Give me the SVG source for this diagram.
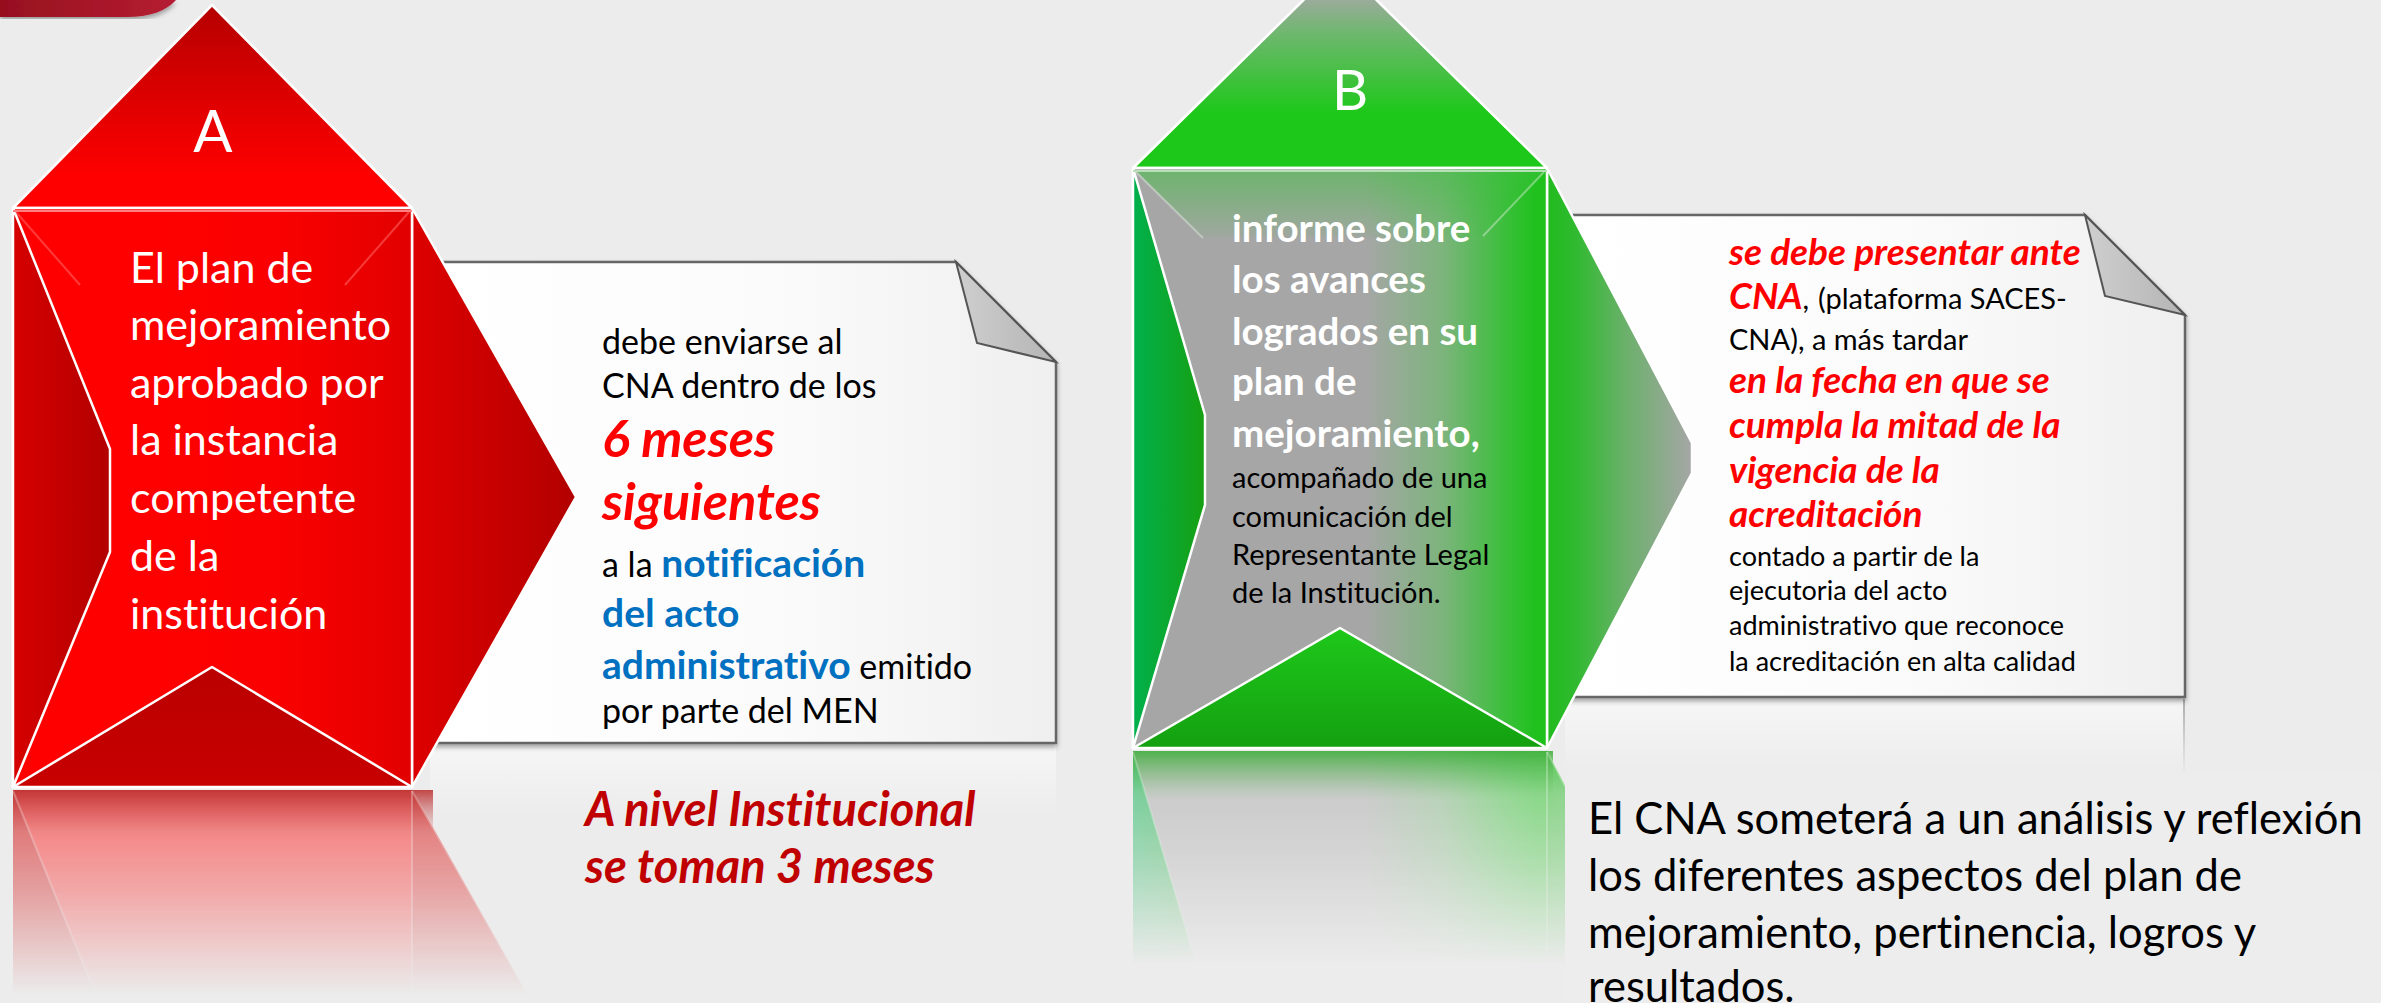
<svg xmlns="http://www.w3.org/2000/svg" width="2381" height="1003" viewBox="0 0 2381 1003">
<defs>
<style>
.f{font-family:Lato,'Open Sans','Liberation Sans',sans-serif;font-variant-ligatures:none;font-feature-settings:"liga" 0,"clig" 0}
.edge{stroke:#fff;stroke-width:2.5;stroke-linejoin:round}
.wA{fill:#fff;font-size:43px}
.big{fill:#fff;font-size:58px}
.ca{font-size:34px;fill:#000}
.r6{font-size:52px;font-weight:700;font-style:italic;fill:#ff0000}
.bl{font-size:39px;font-weight:700;fill:#0070c0}
.dr{font-size:47px;font-weight:700;font-style:italic;fill:#c00000}
.wb{font-size:38.5px;font-weight:700;fill:#fff}
.kb{font-size:29px;fill:#000}
.rb{font-size:37px;font-weight:700;font-style:italic;fill:#ff0000}
.k29{font-size:29px;fill:#000}
.k26{font-size:27px;fill:#000}
.cna{font-size:43.5px;fill:#000}
.paper{fill:url(#gPaper);stroke:#666;stroke-width:2.5;filter:url(#sh)}
.fold{fill:url(#gFold);stroke:#555;stroke-width:2}
.hl{stroke:#fff;stroke-opacity:0.3;stroke-width:2;fill:none}
</style>
<filter id="sh" x="-5%" y="-5%" width="110%" height="115%"><feDropShadow dx="0" dy="3" stdDeviation="2.5" flood-color="#000" flood-opacity="0.35"/></filter>
<linearGradient id="gPaper" x1="0" y1="0" x2="1" y2="0"><stop offset="0" stop-color="#ffffff"/><stop offset="0.55" stop-color="#fbfbfb"/><stop offset="1" stop-color="#efefef"/></linearGradient>
<linearGradient id="gFold" x1="0" y1="0" x2="1" y2="0"><stop offset="0" stop-color="#cfcfcf"/><stop offset="1" stop-color="#b4b4b4"/></linearGradient>
<linearGradient id="gTab" x1="0" y1="0" x2="1" y2="0"><stop offset="0" stop-color="#96101f"/><stop offset="1" stop-color="#b51d31"/></linearGradient>
<linearGradient id="gAtop" gradientUnits="userSpaceOnUse" x1="0" y1="5" x2="0" y2="208"><stop offset="0" stop-color="#b50000"/><stop offset="0.85" stop-color="#ff0000"/></linearGradient>
<linearGradient id="gAface" gradientUnits="userSpaceOnUse" x1="110" y1="0" x2="412" y2="0"><stop offset="0" stop-color="#ff0000"/><stop offset="0.55" stop-color="#fa0000"/><stop offset="1" stop-color="#e20000"/></linearGradient>
<linearGradient id="gAflap" gradientUnits="userSpaceOnUse" x1="13" y1="0" x2="110" y2="0"><stop offset="0" stop-color="#d60000"/><stop offset="1" stop-color="#b20000"/></linearGradient>
<linearGradient id="gAbot" gradientUnits="userSpaceOnUse" x1="0" y1="667" x2="0" y2="787"><stop offset="0" stop-color="#ba0000"/><stop offset="1" stop-color="#c80000"/></linearGradient>
<linearGradient id="gAright" gradientUnits="userSpaceOnUse" x1="412" y1="0" x2="576" y2="0"><stop offset="0" stop-color="#de0000"/><stop offset="1" stop-color="#b20000"/></linearGradient>
<linearGradient id="gBtop" gradientUnits="userSpaceOnUse" x1="0" y1="-10" x2="0" y2="112"><stop offset="0" stop-color="#a8a8a8"/><stop offset="0.35" stop-color="#6fb76f"/><stop offset="1" stop-color="#1ec81a"/></linearGradient>
<linearGradient id="gBface" gradientUnits="userSpaceOnUse" x1="1133" y1="0" x2="1547" y2="0"><stop offset="0" stop-color="#a6a6a6"/><stop offset="0.56" stop-color="#a6a6a6"/><stop offset="0.75" stop-color="#7cb47c"/><stop offset="0.9" stop-color="#3abf3a"/><stop offset="0.97" stop-color="#20c11e"/><stop offset="1" stop-color="#1ec01a"/></linearGradient>
<linearGradient id="gBinner" gradientUnits="userSpaceOnUse" x1="0" y1="168" x2="0" y2="245"><stop offset="0" stop-color="#3cbf3c" stop-opacity="0.55"/><stop offset="1" stop-color="#3cbf3c" stop-opacity="0"/></linearGradient>
<linearGradient id="gBflap" gradientUnits="userSpaceOnUse" x1="1133" y1="0" x2="1205" y2="0"><stop offset="0" stop-color="#00b04c"/><stop offset="1" stop-color="#17a012"/></linearGradient>
<linearGradient id="gBbot" gradientUnits="userSpaceOnUse" x1="0" y1="628" x2="0" y2="748"><stop offset="0" stop-color="#1ec81a"/><stop offset="1" stop-color="#14a010"/></linearGradient>
<linearGradient id="gBright" gradientUnits="userSpaceOnUse" x1="1547" y1="0" x2="1692" y2="0"><stop offset="0" stop-color="#22bb1e"/><stop offset="0.2" stop-color="#30ba30"/><stop offset="0.55" stop-color="#6cb06c"/><stop offset="1" stop-color="#a6a6a6"/></linearGradient>
<linearGradient id="gFadeA" gradientUnits="userSpaceOnUse" x1="0" y1="790" x2="0" y2="995"><stop offset="0" stop-color="#fff" stop-opacity="0.78"/><stop offset="0.2" stop-color="#fff" stop-opacity="0.48"/><stop offset="0.5" stop-color="#fff" stop-opacity="0.32"/><stop offset="1" stop-color="#fff" stop-opacity="0"/></linearGradient>
<linearGradient id="gFadeB" gradientUnits="userSpaceOnUse" x1="0" y1="751" x2="0" y2="965"><stop offset="0" stop-color="#fff" stop-opacity="0.78"/><stop offset="0.2" stop-color="#fff" stop-opacity="0.48"/><stop offset="0.5" stop-color="#fff" stop-opacity="0.32"/><stop offset="1" stop-color="#fff" stop-opacity="0"/></linearGradient>
<linearGradient id="gBandA" gradientUnits="userSpaceOnUse" x1="0" y1="790" x2="0" y2="840"><stop offset="0" stop-color="#b00000" stop-opacity="0.9"/><stop offset="1" stop-color="#b00000" stop-opacity="0"/></linearGradient>
<linearGradient id="gBandB" gradientUnits="userSpaceOnUse" x1="0" y1="751" x2="0" y2="800"><stop offset="0" stop-color="#14a010" stop-opacity="0.9"/><stop offset="1" stop-color="#14a010" stop-opacity="0"/></linearGradient>
<linearGradient id="gRefl" x1="0" y1="0" x2="0" y2="1"><stop offset="0" stop-color="#fff" stop-opacity="0.55"/><stop offset="1" stop-color="#fff" stop-opacity="0"/></linearGradient>
<linearGradient id="gRline" x1="0" y1="0" x2="0" y2="1"><stop offset="0" stop-color="#999" stop-opacity="0.8"/><stop offset="1" stop-color="#999" stop-opacity="0"/></linearGradient>
<mask id="mA" maskUnits="userSpaceOnUse" x="0" y="788" width="700" height="215"><rect x="0" y="788" width="700" height="215" fill="url(#gFadeA)"/></mask>
<mask id="mB" maskUnits="userSpaceOnUse" x="1100" y="749" width="700" height="254"><rect x="1100" y="749" width="700" height="254" fill="url(#gFadeB)"/></mask>
</defs>

<rect x="0" y="0" width="2381" height="1003" fill="#ececec"/>

<g id="corner-tab">
<path d="M0,0 H176 C166,11 150,17 126,17 H0 Z" fill="url(#gTab)" filter="url(#sh)"/>
</g>

<g id="callout-a">
<rect x="430" y="745" width="626" height="70" fill="url(#gRefl)"/>
<path class="paper" d="M430,262 H956 L1056,362 V743 H430 Z"/>
<path class="fold" d="M956,262 L977,343 L1056,362 Z"/>
<g class="f">
<text class="ca" x="602" y="354">debe enviarse al</text>
<text class="ca" x="602" y="398">CNA dentro de los</text>
<text class="r6" x="602" y="457">6 meses</text>
<text class="r6" x="602" y="520">siguientes</text>
<text x="602" y="577"><tspan class="ca">a la </tspan><tspan class="bl">notificación</tspan></text>
<text class="bl" x="602" y="627">del acto</text>
<text x="602" y="679"><tspan class="bl">administrativo</tspan><tspan class="ca"> emitido</tspan></text>
<text class="ca" x="602" y="723">por parte del MEN</text>
</g>
</g>

<g id="callout-b">
<rect x="1565" y="699" width="620" height="75" fill="url(#gRefl)"/>
<rect x="2183" y="699" width="2" height="76" fill="url(#gRline)"/>
<path class="paper" d="M1560,215 H2085 L2185,315 V697 H1560 Z"/>
<path class="fold" d="M2085,215 L2105,296 L2185,315 Z"/>
<g class="f">
<text class="rb" x="1729" y="265">se debe presentar ante</text>
<text x="1729" y="309"><tspan class="rb">CNA</tspan><tspan class="k29">,</tspan></text>
<text class="k29" x="1818" y="309">(plataforma SACES-</text>
<text class="k29" x="1729" y="350">CNA), a más tardar</text>
<text class="rb" x="1729" y="393">en la fecha en que se</text>
<text class="rb" x="1729" y="438">cumpla la mitad de la</text>
<text class="rb" x="1729" y="483">vigencia de la</text>
<text class="rb" x="1729" y="527">acreditación</text>
<text class="k26" x="1729" y="566">contado a partir de la</text>
<text class="k26" x="1729" y="600">ejecutoria del acto</text>
<text class="k26" x="1729" y="635">administrativo que reconoce</text>
<text class="k26" x="1729" y="671">la acreditación en alta calidad</text>
</g>
</g>

<g id="reflections">
<g id="reflection-a" mask="url(#mA)">
<rect x="13" y="790" width="399" height="213" fill="#ff1a1a"/>
<polygon points="13,790 110,1030 13,1030" fill="#d40000"/>
<polygon points="412,790 576,1080 412,1370" fill="#dd1010"/>
<rect x="13" y="790" width="420" height="50" fill="url(#gBandA)"/>
<polyline class="hl" points="13,791 110,1030"/>
<line class="hl" x1="412" y1="791" x2="412" y2="1003"/>
<polyline class="hl" points="412,791 576,1080"/>
</g>
<g id="reflection-b" mask="url(#mB)">
<rect x="1133" y="751" width="414" height="252" fill="url(#gBface)"/>
<polygon points="1133,751 1205,993 1133,993" fill="url(#gBflap)"/>
<polygon points="1547,751 1692,1026 1547,1300" fill="url(#gBright)"/>
<rect x="1133" y="751" width="420" height="50" fill="url(#gBandB)"/>
<polyline class="hl" points="1133,752 1205,993"/>
<line class="hl" x1="1547" y1="752" x2="1547" y2="1003"/>
<polyline class="hl" points="1547,752 1692,1026"/>
</g>
</g>

<g id="node-a">
<polygon class="edge" points="412,208 576,497 412,787" fill="url(#gAright)"/>
<polygon class="edge" points="13,208 212,5 412,208" fill="url(#gAtop)"/>
<rect class="edge" x="13" y="208" width="399" height="579" fill="url(#gAface)"/>
<polygon class="edge" points="13,208 110,449 110,552 13,787" fill="url(#gAflap)"/>
<polygon class="edge" points="13,787 212,667 412,787" fill="url(#gAbot)"/>
<line x1="13" y1="211" x2="412" y2="211" stroke="#ff8080" stroke-width="2"/>
<line x1="16" y1="212" x2="80" y2="285" stroke="#ff6060" stroke-opacity="0.6" stroke-width="2"/>
<line x1="409" y1="212" x2="345" y2="285" stroke="#ff6060" stroke-opacity="0.6" stroke-width="2"/>
<g class="f">
<text class="big" x="213" y="152" text-anchor="middle">A</text>
<text class="wA" x="130" y="283">El plan de</text>
<text class="wA" x="130" y="340">mejoramiento</text>
<text class="wA" x="130" y="398">aprobado por</text>
<text class="wA" x="130" y="455">la instancia</text>
<text class="wA" x="130" y="513">competente</text>
<text class="wA" x="130" y="571">de la</text>
<text class="wA" x="130" y="629">institución</text>
</g>
</g>

<g id="node-b">
<polygon class="edge" points="1547,168 1692,443 1692,473 1547,748" fill="url(#gBright)"/>
<polygon class="edge" points="1133,168 1340,-36 1547,168" fill="url(#gBtop)"/>
<rect class="edge" x="1133" y="168" width="414" height="580" fill="url(#gBface)"/>
<polygon points="1135,170 1545,170 1483,236 1203,238" fill="url(#gBinner)"/>
<polygon class="edge" points="1133,168 1205,415 1205,505 1133,748" fill="url(#gBflap)"/>
<polygon class="edge" points="1133,748 1340,628 1547,748" fill="url(#gBbot)"/>
<line x1="1133" y1="171" x2="1547" y2="171" stroke="#b8e0b8" stroke-width="2"/>
<line x1="1136" y1="172" x2="1203" y2="238" stroke="#e0f0e0" stroke-opacity="0.45" stroke-width="2"/>
<line x1="1544" y1="172" x2="1483" y2="236" stroke="#e0f0e0" stroke-opacity="0.45" stroke-width="2"/>
<g class="f">
<text class="big" x="1350" y="110" text-anchor="middle" style="font-size:56px">B</text>
<text class="wb" x="1232" y="242">informe sobre</text>
<text class="wb" x="1232" y="293">los avances</text>
<text class="wb" x="1232" y="345">logrados en su</text>
<text class="wb" x="1232" y="395">plan de</text>
<text class="wb" x="1232" y="447">mejoramiento,</text>
<text class="kb" x="1232" y="488">acompañado de una</text>
<text class="kb" x="1232" y="527">comunicación del</text>
<text class="kb" x="1232" y="565">Representante Legal</text>
<text class="kb" x="1232" y="603">de la Institución.</text>
</g>
</g>

<g id="note-a" class="f">
<text class="dr" x="585" y="826">A nivel Institucional</text>
<text class="dr" x="585" y="883">se toman 3 meses</text>
</g>

<g id="note-b">
<rect x="1565" y="773" width="816" height="230" fill="#ededed"/>
<g class="f">
<text class="cna" x="1588" y="834">El CNA someterá a un análisis y reflexión</text>
<text class="cna" x="1588" y="891">los diferentes aspectos del plan de</text>
<text class="cna" x="1588" y="948">mejoramiento, pertinencia, logros y</text>
<text class="cna" x="1588" y="1002">resultados.</text>
</g>
</g>

<g id="connectors"></g>
</svg>
